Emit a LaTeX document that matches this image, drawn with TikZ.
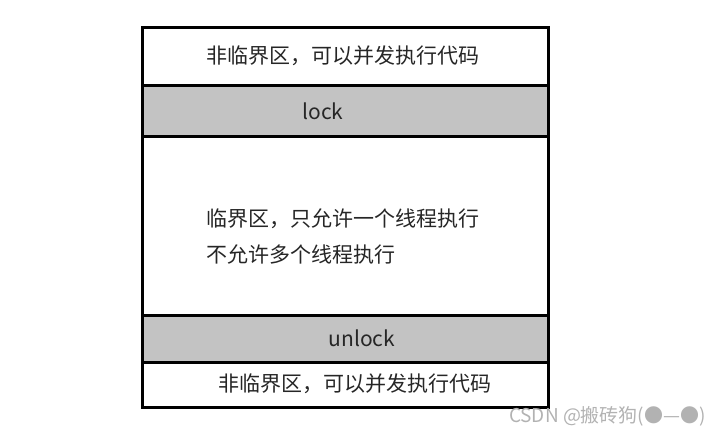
\documentclass[tikz,border=0pt]{standalone}
\usepackage{fontspec}
\setmainfont{Noto Sans CJK SC}
\usetikzlibrary{positioning}
\definecolor{lockgray}{HTML}{C3C3C3}
\tikzset{
    row/.style={draw=black,line width=3pt,minimum width=406pt,inner sep=0pt,outer sep=0pt},
    lockrow/.style={row,fill=lockgray},
    txt/.style={text=black!85,font=\fontsize{21}{24}\selectfont,inner sep=0pt},
    wmark/.style={text=black!30,font=\fontsize{19}{22}\selectfont,inner sep=0pt}
}
\begin{document}
\begin{tikzpicture}[x=1pt,y=-1pt]
\useasboundingbox (0,0) rectangle (719,437);
% the five rows of the block
\node[row,minimum height=58pt,anchor=north west] (ncsa) at (142,27) {};
\node[lockrow,minimum height=51pt,below=0pt of ncsa] (lock) {};
\node[row,minimum height=179pt,below=0pt of lock] (cs) {};
\node[lockrow,minimum height=47pt,below=0pt of cs] (unlock) {};
\node[row,minimum height=45pt,below=0pt of unlock] (ncsb) {};
% texts
\node[txt] (ncsatxt) at (343,56) {非临界区，可以并发执行代码};
\node[txt] (locktxt) at (323,111) {lock};
\node[txt,anchor=west,align=left] (cstxt) at (206,236)
    {临界区，只允许一个线程执行\\[12pt]不允许多个线程执行};
\node[txt] (unlocktxt) at (362,338) {unlock};
\node[txt] (ncsbtxt) at (355,384) {非临界区，可以并发执行代码};
\node[wmark,anchor=east] (wm) at (706,416) {CSDN @搬砖狗(●—●)};
\end{tikzpicture}
\end{document}
